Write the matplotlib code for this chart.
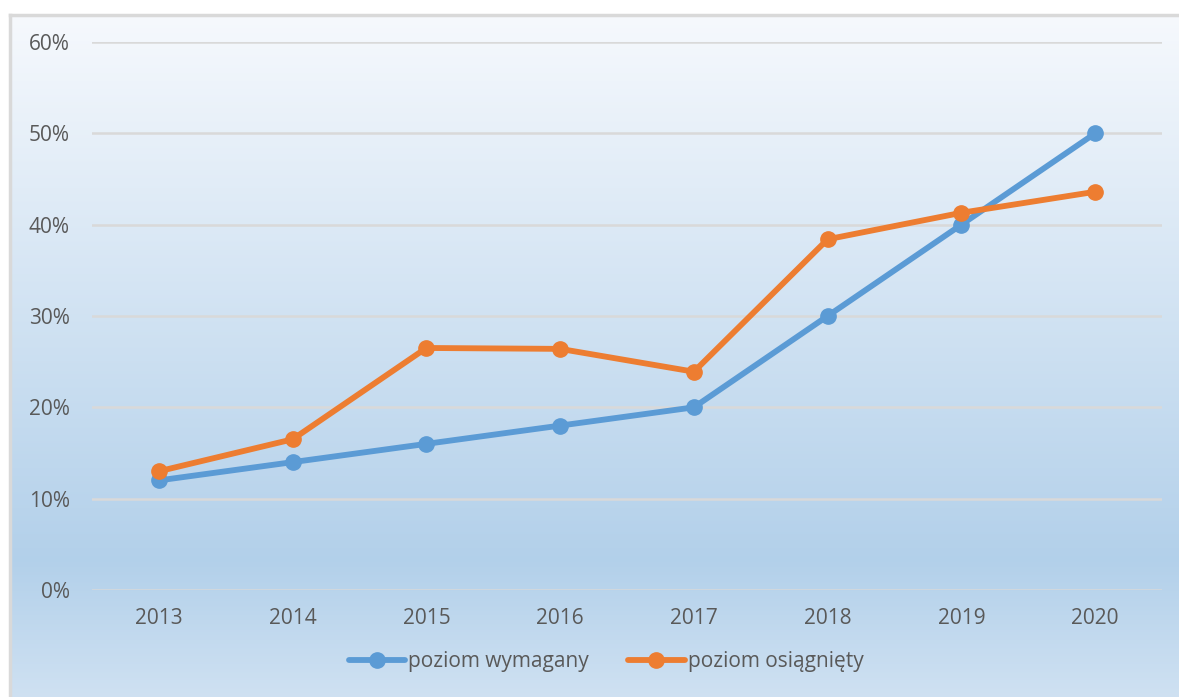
import numpy as np
import matplotlib.pyplot as plt
from matplotlib.colors import LinearSegmentedColormap

# Data
years = ["2013", "2014", "2015", "2016", "2017", "2018", "2019", "2020"]
poziom_wymagany = [12, 14, 16, 18, 20, 30, 40, 50]
poziom_osiagniety = [13.0, 16.5, 26.5, 26.4, 23.9, 38.4, 41.3, 43.6]
y_ticks = [0, 10, 20, 30, 40, 50, 60]

BLUE = "#5b9bd5"
ORANGE = "#ed7d31"
TEXT = "#595959"
GRID = "#d9d9d9"

plt.rcParams['font.family'] = ['Open Sans', 'DejaVu Sans']

W, H = 1179, 697
fig = plt.figure(figsize=(W / 100, H / 100), dpi=100)
fig.patch.set_facecolor("white")

# Gradient background of the chart frame
frame_l, frame_t = 10 / W, 1 - 15 / H
bg = fig.add_axes([frame_l, 0, 1 - frame_l, frame_t], zorder=0)
cmap = LinearSegmentedColormap.from_list(
    "grad",
    [(0.0, (0.965, 0.976, 0.992)),
     (0.80, (0.70, 0.816, 0.918)),
     (1.0, (0.81, 0.882, 0.949))])
grad = np.linspace(0, 1, 256).reshape(-1, 1)
bg.imshow(grad, aspect="auto", cmap=cmap, extent=[0, 1, 0, 1], origin="upper")
bg.set_xlim(0, 1)
bg.set_ylim(0, 1)
bg.axis("off")
# frame borders (left, top)
fig.add_artist(plt.Line2D([frame_l, frame_l], [0, frame_t], color="#d9d9d9", lw=2.5))
fig.add_artist(plt.Line2D([frame_l, 1], [frame_t, frame_t], color="#d9d9d9", lw=2.5))

# Plot area
x0, x1 = 92 / W, 1162 / W
y0, y1 = 1 - 590 / H, 1 - 42 / H
ax = fig.add_axes([x0, y0, x1 - x0, y1 - y0], zorder=1)
ax.patch.set_alpha(0)

x = np.arange(len(years))
ax.plot(x, poziom_wymagany, color=BLUE, lw=4.2, marker="o", markersize=11,
        label="poziom wymagany", solid_capstyle="round", zorder=3)
ax.plot(x, poziom_osiagniety, color=ORANGE, lw=4.2, marker="o", markersize=11,
        label="poziom osiągnięty", solid_capstyle="round", zorder=3)

ax.set_xlim(-0.5, len(years) - 0.5)
ax.set_ylim(0, 60)
ax.set_yticks(y_ticks)
ax.set_yticklabels([f"{t}%" for t in y_ticks])
ax.set_xticks(x)
ax.set_xticklabels(years)
ax.grid(axis="y", color=GRID, lw=1.8, zorder=1)
ax.set_axisbelow(True)
for s in ax.spines.values():
    s.set_visible(False)
ax.tick_params(axis="both", length=0, labelsize=15, colors=TEXT)
ax.tick_params(axis="y", pad=16)
ax.tick_params(axis="x", pad=13)

leg = fig.legend(loc="center", bbox_to_anchor=(606 / W, 1 - 662 / H), ncol=2,
                 frameon=False, fontsize=15, handlelength=2.7,
                 handletextpad=0.15, columnspacing=1.9)
for t in leg.get_texts():
    t.set_color(TEXT)

fig.savefig("out.png", dpi=100)
